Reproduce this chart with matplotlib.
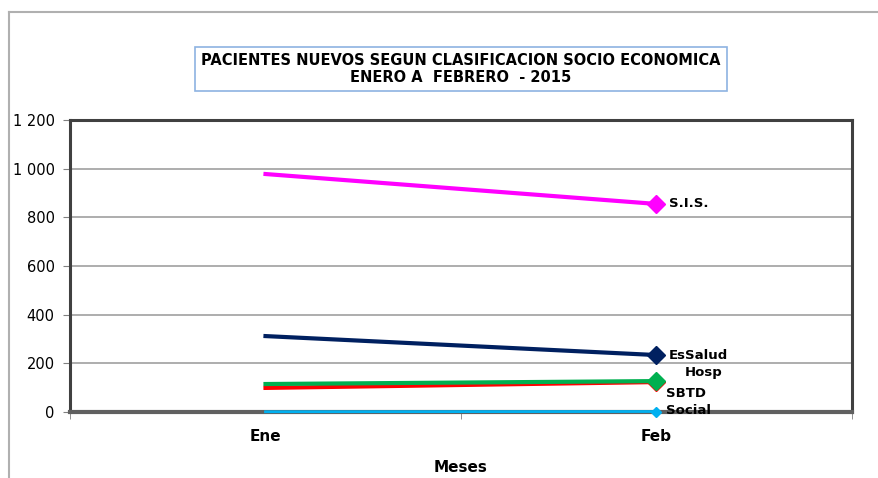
import matplotlib
matplotlib.use("Agg")
import matplotlib.pyplot as plt
from matplotlib.lines import Line2D

# datos
meses = ["Ene", "Feb"]
series = ["S.I.S.", "EsSalud", "Hosp", "SBTD", "Social"]
sis = [978, 855]
essalud = [312, 234]
hosp = [115, 127]
sbtd = [99, 123]
social = [1, 2]
colores = ["#FF00FF", "#002060", "#00B050", "#FF0000", "#00B0F0"]
yticks = [0, 200, 400, 600, 800, 1000, 1200]

valores = [sis, essalud, hosp, sbtd, social]

fig = plt.figure(figsize=(8.79, 4.78), dpi=100)
W, H = 879, 478

# marco exterior gris
fig.add_artist(Line2D([9 / W, 9 / W], [0, 1 - 12 / H], color="#b0b0b0", lw=1.5, transform=fig.transFigure))
fig.add_artist(Line2D([9 / W, 1], [1 - 12 / H, 1 - 12 / H], color="#b0b0b0", lw=1.5, transform=fig.transFigure))

ax = fig.add_axes([70 / W, 66 / H, (852 - 70) / W, (412 - 120) / H])
x = range(len(meses))

# orden de dibujo: SBTD debajo de Hosp
for i in [3, 2, 1, 0]:
    ax.plot(x, valores[i], color=colores[i], lw=3, marker="D", markersize=9,
            markevery=[1], zorder=3 + (i == 2), clip_on=False,
            markeredgecolor=colores[i])
ax.plot(x, social, color=colores[4], lw=2, marker="D", markersize=5, markevery=[1],
        zorder=5, clip_on=False)

# etiquetas de serie
offs = {"S.I.S.": (9, 0), "EsSalud": (9, 0), "Hosp": (20, 6), "SBTD": (7, -8), "Social": (7, 1)}
for i, nom in enumerate(series):
    ax.annotate(nom, (1, valores[i][1]), xytext=offs[nom], textcoords="offset points",
                fontsize=9.5, fontweight="bold", va="center", ha="left", zorder=6)

ax.set_xlim(-0.5, 1.5)
ax.set_ylim(0, 1200)
ax.set_yticks(yticks)
ax.set_yticklabels([f"{v:,}".replace(",", " ") for v in yticks], fontsize=10.5)
ax.set_xticks(x)
ax.set_xticklabels(meses, fontsize=11, fontweight="bold")
ax.set_xticks([-0.5, 0.5, 1.5], minor=True)
ax.tick_params(axis="x", which="major", length=0, pad=12)
ax.tick_params(axis="x", which="minor", length=5, color="#808080")
ax.tick_params(axis="y", length=5, color="#808080", pad=6)
ax.grid(axis="y", color="#a0a0a0", lw=1.2)
ax.set_axisbelow(True)
for s in ax.spines.values():
    s.set_linewidth(2.2)
    s.set_color("#404040")
ax.spines["bottom"].set_color("#606060")
ax.spines["bottom"].set_linewidth(3)
ax.set_xlabel("Meses", fontsize=11, fontweight="bold", labelpad=12)

fig.text(461 / W, 1 - 69 / H,
         "PACIENTES NUEVOS SEGUN CLASIFICACION SOCIO ECONOMICA\nENERO A  FEBRERO  - 2015",
         ha="center", va="center", fontsize=10.5, fontweight="bold", linespacing=1.15,
         bbox=dict(boxstyle="square,pad=0.45", fc="white", ec="#8db3e2", lw=1.2))

fig.savefig("out.png", dpi=100)
